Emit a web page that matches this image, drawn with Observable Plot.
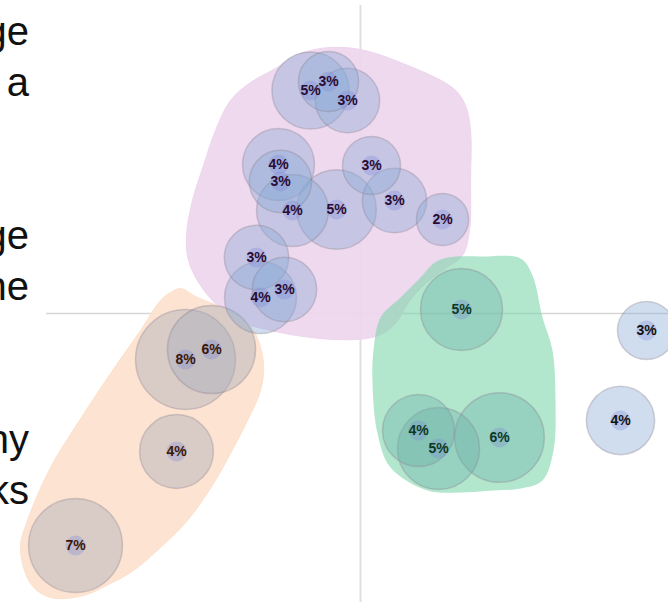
<!DOCTYPE html>
<html>
<head>
<meta charset="utf-8">
<script src="https://cdn.jsdelivr.net/npm/d3@7"></script>
<script src="https://cdn.jsdelivr.net/npm/@observablehq/plot@0.6"></script>
<style>
  html, body { margin: 0; padding: 0; background: #fff; overflow: hidden; }
  #wrap { position: relative; width: 668px; height: 602px; }
  #side { position: absolute; left: -371px; width: 400px; top: 6px; text-align: right;
          font: 40px "Liberation Sans", Arial, sans-serif; line-height: 51px; color: #111;
          white-space: pre; z-index: 2; }
</style>
</head>
<body>
<div id="wrap"><div id="side"></div></div>
<script>
// ---- data ----
const sideLines = ["ge", "a", "", "", "ge", "he", "", "", "ny", "ks"];

const hullColor = { p: "#eed6ee", g: "#7fd5ac", o: "#fde1cd" };
const bubbleColor = { p: "#8aaad4", b: "#8aaad4", g: "#6eb2aa", o: "#a2aab8" };
const labelColor = { p: "#2a0b33", g: "#0b3a22", b: "#111111", o: "#3a1805" };

const itemCluster = ["p","p","p","p","p","p","p","p","p","p","p","p","p","g","g","g","g","b","b","o","o","o","o"];
const itemX = [-0.50,-0.32,-0.13,-0.82,-0.80,-0.68,-0.24,0.11,0.34,0.82,-1.04,-1.00,-0.76,1.01,0.58,0.78,1.39,2.86,2.60,-1.75,-1.49,-1.84,-2.85];
const itemY = [2.23,2.32,2.13,1.49,1.32,1.03,1.04,1.48,1.13,0.94,0.56,0.16,0.24,0.04,-1.17,-1.35,-1.24,-0.17,-1.07,-0.46,-0.36,-1.38,-2.32];
const itemValue = [4.6,2.8,3.2,4.0,3.0,4.0,4.9,2.6,3.2,2.1,3.2,4.0,3.2,5.2,4.0,5.2,6.2,2.6,3.6,7.7,6.0,4.2,6.8];

// cluster outlines (data units)
const hullP_x = [-0.50,-0.30,0.00,0.40,0.93,1.05,1.10,1.10,1.09,1.02,0.85,0.65,0.48,0.35,0.18,-0.05,-0.40,-0.70,-0.98,-1.20,-1.38,-1.60,-1.72,-1.74,-1.68,-1.57,-1.45,-1.30,-1.10,-0.85,-0.65];
const hullP_y = [2.63,2.66,2.64,2.51,2.25,2.08,1.83,1.33,0.83,0.58,0.45,0.30,0.11,-0.10,-0.22,-0.26,-0.25,-0.21,-0.15,-0.09,0.03,0.28,0.53,0.78,1.13,1.48,1.83,2.13,2.31,2.45,2.58];
const hullG_x = [0.87,1.20,1.60,1.72,1.82,1.92,1.95,1.93,1.82,1.60,1.33,1.00,0.67,0.30,0.17,0.12,0.13,0.20,0.40,0.60,0.73];
const hullG_y = [0.56,0.57,0.55,0.38,-0.04,-0.37,-0.87,-1.37,-1.67,-1.75,-1.77,-1.79,-1.77,-1.54,-1.20,-0.70,-0.37,-0.04,0.16,0.36,0.50];
const hullO_x = [-1.80,-1.65,-1.27,-1.07,-0.97,-1.00,-1.13,-1.30,-1.47,-1.73,-2.00,-2.27,-2.50,-2.77,-3.10,-3.30,-3.40,-3.33,-3.10,-2.83,-2.50,-2.20,-2.00,-1.90];
const hullO_y = [0.25,0.17,0.00,-0.17,-0.50,-0.77,-1.07,-1.40,-1.70,-2.07,-2.34,-2.57,-2.70,-2.82,-2.84,-2.70,-2.34,-2.07,-1.54,-1.10,-0.60,-0.17,0.13,0.21];

// crosshair
const crossV = [{x: 0, y1: 3.08, y2: -2.89}];
const crossH = [{y: 0, x1: -3.14, x2: 3.08}];

// ---- build ----
const items = itemX.map((x, i) => ({x, y: itemY[i], value: itemValue[i], cluster: itemCluster[i]}));
const mkHull = (xs, ys, c) => xs.map((x, i) => ({x, y: ys[i], cluster: c}));
const hullP = mkHull(hullP_x, hullP_y, "p");
const hullG = mkHull(hullG_x, hullG_y, "g");
const hullO = mkHull(hullO_x, hullO_y, "o");

document.getElementById("side").textContent = sideLines.join("\n");

const font = "'Liberation Sans', Arial, sans-serif";
const chart = Plot.plot({
  width: 668, height: 602, margin: 0,
  style: { background: "transparent", overflow: "visible" },
  x: { domain: [-3.6, 3.08], axis: null },
  y: { domain: [-2.89, 3.13], axis: null },
  r: { type: "sqrt", domain: [0, 8], range: [0, 50.91] },
  color: { type: "identity" },
  marks: [
    Plot.ruleX(crossV, { x: "x", y1: "y1", y2: "y2", stroke: "#e0e0e0", strokeWidth: 2 }),
    Plot.ruleY(crossH, { y: "y", x1: "x1", x2: "x2", stroke: "#d6d6d6", strokeWidth: 1.5 }),
    Plot.line(hullP, { x: "x", y: "y", fill: hullColor.p, fillOpacity: 0.92, stroke: hullColor.p, strokeWidth: 1, curve: "catmull-rom-closed" }),
    Plot.line(hullO, { x: "x", y: "y", fill: hullColor.o, fillOpacity: 0.92, stroke: hullColor.o, strokeWidth: 1, curve: "catmull-rom-closed" }),
    Plot.line(hullG, { x: "x", y: "y", fill: hullColor.g, fillOpacity: 0.6, stroke: "none", curve: "catmull-rom-closed" }),
    Plot.dot(items, { x: "x", y: "y", r: "value", fill: d => bubbleColor[d.cluster], fillOpacity: 0.4, stroke: "#8a8290", strokeOpacity: 0.35, strokeWidth: 1.5 }),
    Plot.dot(items, { x: "x", y: "y", r: 10, fill: "#7c84d8", fillOpacity: 0.3, stroke: "none" }),
    Plot.text(items, { x: "x", y: "y", text: d => Math.round(d.value) + "%", fill: d => labelColor[d.cluster],
      fontWeight: "bold", fontSize: 14, fontFamily: font })
  ]
});
document.getElementById("wrap").appendChild(chart);
</script>
</body>
</html>
